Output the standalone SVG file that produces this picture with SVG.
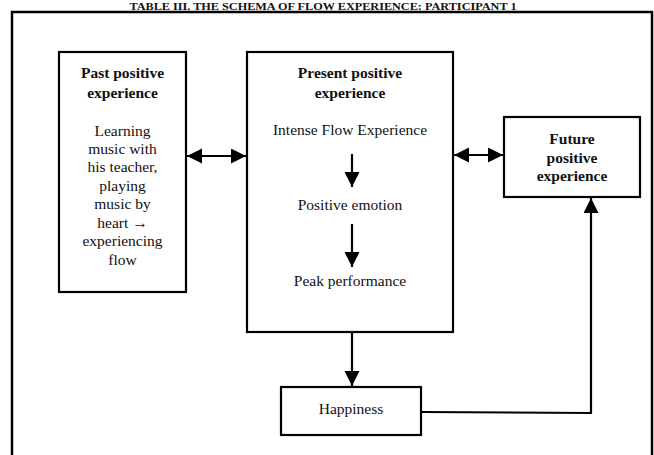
<svg xmlns="http://www.w3.org/2000/svg" width="654" height="455" viewBox="0 0 654 455">
<style>
.box{fill:#fff;stroke:#000;stroke-width:2.2}
.t{font-family:"Liberation Serif","Times New Roman",serif;font-size:15.5px;fill:#111;text-anchor:middle}
.b{font-weight:bold}
.c{fill:none;stroke:#000;stroke-width:2.2}
</style>
<defs>
<marker id="ah" markerUnits="userSpaceOnUse" markerWidth="16" markerHeight="16" refX="15" refY="7.5" orient="auto-start-reverse">
<path d="M0,0 L15,7.5 L0,15 z" fill="#000"/>
</marker>
</defs>
<rect width="654" height="455" fill="#fff"/>
<text class="t b" x="323" y="9.5" textLength="387" lengthAdjust="spacingAndGlyphs" style="font-size:10px">TABLE III. THE SCHEMA OF FLOW EXPERIENCE: PARTICIPANT 1</text>
<rect x="12" y="12" width="640" height="460" fill="none" stroke="#000" stroke-width="2.5"/>
<g id="past">
<rect class="box" x="59" y="52" width="127" height="240"/>
<text class="t b" x="122.5" y="78">Past positive</text>
<text class="t b" x="122.5" y="98">experience</text>
<text class="t" x="122.5" y="136">Learning</text>
<text class="t" x="122.5" y="154">music with</text>
<text class="t" x="122.5" y="172">his teacher,</text>
<text class="t" x="122.5" y="190.5">playing</text>
<text class="t" x="122.5" y="209">music by</text>
<text class="t" x="122.5" y="227.5">heart →</text>
<text class="t" x="122.5" y="246">experiencing</text>
<text class="t" x="122.5" y="265">flow</text>
</g>
<g id="present">
<rect class="box" x="247" y="52" width="206" height="280"/>
<text class="t b" x="350" y="78">Present positive</text>
<text class="t b" x="350" y="98">experience</text>
<text class="t" x="350" y="134.5">Intense Flow Experience</text>
<text class="t" x="350" y="210">Positive emotion</text>
<text class="t" x="350" y="286">Peak performance</text>
</g>
<g id="future">
<rect class="box" x="504" y="117" width="136" height="80"/>
<text class="t b" x="572" y="143.5">Future</text>
<text class="t b" x="572" y="162.5">positive</text>
<text class="t b" x="572" y="181">experience</text>
</g>
<g id="happiness">
<rect class="box" x="281" y="387" width="140" height="48"/>
<text class="t" x="351" y="413.5">Happiness</text>
</g>
<g id="connectors">
<line class="c" x1="187" y1="156" x2="246" y2="156" marker-start="url(#ah)" marker-end="url(#ah)"/>
<line class="c" x1="454" y1="155" x2="503" y2="155" marker-start="url(#ah)" marker-end="url(#ah)"/>
<line class="c" x1="352" y1="154" x2="352" y2="187" marker-end="url(#ah)"/>
<line class="c" x1="352" y1="224" x2="352" y2="267" marker-end="url(#ah)"/>
<line class="c" x1="352" y1="333" x2="352" y2="386" marker-end="url(#ah)"/>
<polyline class="c" points="421,412 591,413 591,198" marker-end="url(#ah)"/>
</g>
</svg>
